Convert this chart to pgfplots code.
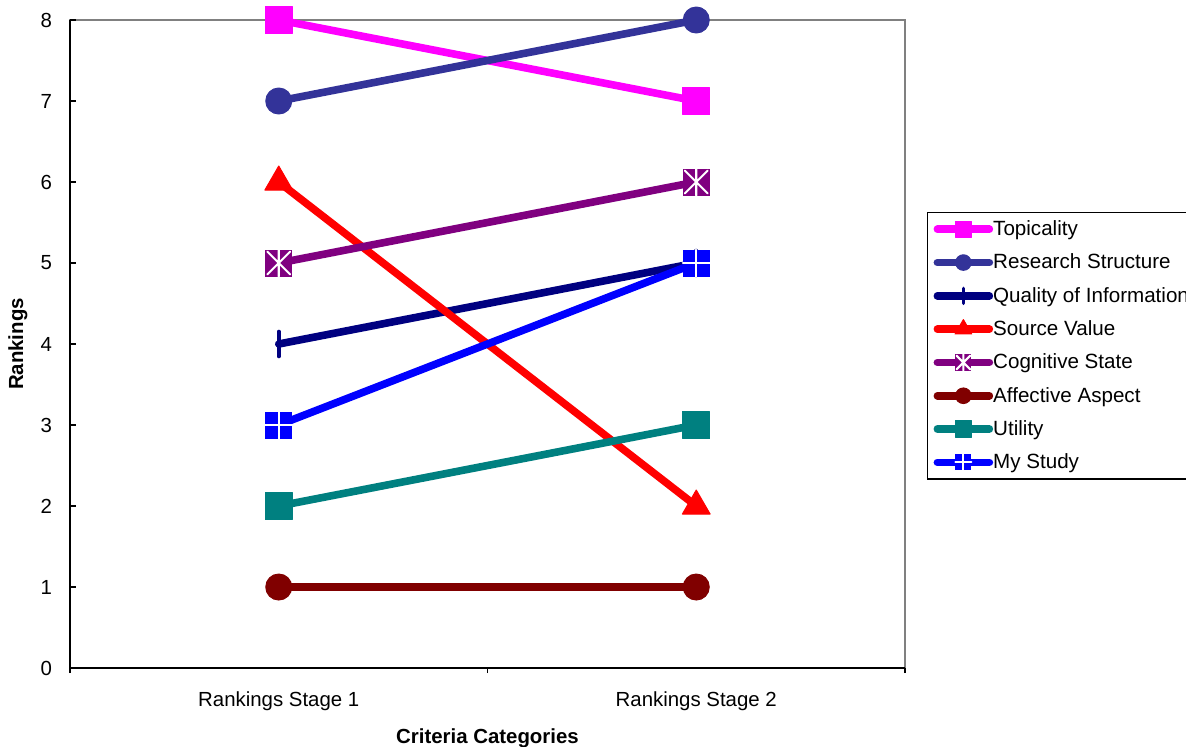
\documentclass[border=0pt]{standalone}
\usepackage{pgfplots}
\pgfplotsset{compat=1.18}
\usepackage{fontspec}
\setmainfont{Liberation Sans}

\definecolor{cTopic}{HTML}{FF00FF}
\definecolor{cResearch}{HTML}{333399}
\definecolor{cQuality}{HTML}{000080}
\definecolor{cSource}{HTML}{FF0000}
\definecolor{cCognitive}{HTML}{800080}
\definecolor{cAffective}{HTML}{800000}
\definecolor{cUtility}{HTML}{008080}
\definecolor{cStudy}{HTML}{0000FF}

% filled square with a white asterisk (two diagonals and a vertical bar)
\pgfdeclareplotmark{sqast}{%
  \pgfpathrectangle{\pgfqpoint{-\pgfplotmarksize}{-\pgfplotmarksize}}{\pgfqpoint{2\pgfplotmarksize}{2\pgfplotmarksize}}%
  \pgfusepathqfill
  \pgfscope
  \pgfsetstrokecolor{white}%
  \pgfsetlinewidth{0.15\pgfplotmarksize}%
  \pgfpathmoveto{\pgfqpoint{-0.85\pgfplotmarksize}{-0.85\pgfplotmarksize}}%
  \pgfpathlineto{\pgfqpoint{0.85\pgfplotmarksize}{0.85\pgfplotmarksize}}%
  \pgfpathmoveto{\pgfqpoint{-0.85\pgfplotmarksize}{0.85\pgfplotmarksize}}%
  \pgfpathlineto{\pgfqpoint{0.85\pgfplotmarksize}{-0.85\pgfplotmarksize}}%
  \pgfpathmoveto{\pgfqpoint{0pt}{-\pgfplotmarksize}}%
  \pgfpathlineto{\pgfqpoint{0pt}{\pgfplotmarksize}}%
  \pgfusepathqstroke
  \endpgfscope
}
% filled square with a white plus
\pgfdeclareplotmark{sqplus}{%
  \pgfpathrectangle{\pgfqpoint{-\pgfplotmarksize}{-\pgfplotmarksize}}{\pgfqpoint{2\pgfplotmarksize}{2\pgfplotmarksize}}%
  \pgfusepathqfill
  \pgfscope
  \pgfsetstrokecolor{white}%
  \pgfsetlinewidth{0.15\pgfplotmarksize}%
  \pgfpathmoveto{\pgfqpoint{-\pgfplotmarksize}{0pt}}%
  \pgfpathlineto{\pgfqpoint{\pgfplotmarksize}{0pt}}%
  \pgfpathmoveto{\pgfqpoint{0pt}{-\pgfplotmarksize}}%
  \pgfpathlineto{\pgfqpoint{0pt}{\pgfplotmarksize}}%
  \pgfusepathqstroke
  \endpgfscope
}

\begin{document}
\begin{tikzpicture}
\path[use as bounding box] (-35pt,-39pt) rectangle (558pt,334pt);
\begin{axis}[
  at={(0pt,0pt)}, anchor=south west,
  scale only axis, width=417.5pt, height=324pt,
  xmin=-0.5, xmax=1.5, ymin=0, ymax=8,
  clip=false,
  axis lines=left,
  axis line style={-, black, line width=0.6pt},
  axis background/.style={draw=black!50, line width=0.8pt},
  tick align=inside,
  tick style={black, line width=0.6pt},
  major tick length=3pt,
  minor tick length=2.6pt,
  xtick={0,1},
  xticklabels={Rankings Stage 1, Rankings Stage 2},
  major x tick style={draw=none},
  minor xtick={-0.5,0.5,1.5},
  minor x tick style={yshift=-2.6pt},
  ytick={0,1,...,8},
  /pgf/number format/assume math mode=true,
  ticklabel style={font=\fontsize{10.2}{12}\selectfont},
  xticklabel style={yshift=-8.5pt},
  yticklabel style={xshift=-5.5pt},
  xlabel={Criteria Categories},
  ylabel={Rankings},
  xlabel style={at={(axis description cs:0.5,-0.108)}, anchor=center, font=\bfseries\fontsize{10.2}{12}\selectfont},
  ylabel style={at={(axis description cs:-0.0623,0.5)}, anchor=center, font=\bfseries\fontsize{10.2}{12}\selectfont},
  every axis plot/.append style={line width=3.8pt, line cap=round, line join=round},
  legend cell align=left,
  legend image code/.code={%
    \draw[mark repeat=2, mark phase=2, line cap=round,
          /tikz/every mark/.append style={scale=0.6}]
      plot coordinates {(0pt,0pt) (13pt,0pt) (26pt,0pt)};},
  legend style={
    at={(1.0263,0.7037)}, anchor=north west,
    draw=black, line width=0.6pt,
    font=\fontsize{10.3}{12}\selectfont,
    inner xsep=3pt, inner ysep=0pt, row sep=0pt,
    nodes={inner xsep=0pt, inner ysep=0pt, text height=11.5pt, text depth=5.15pt},
  },
]
\addplot[color=cTopic, mark=square*, mark size=6.75pt, mark options={solid, line width=0.5pt}]
  coordinates {(0,8) (1,7)};
\addlegendentry{Topicality}
\addplot[color=cResearch, mark=*, mark size=6.5pt, mark options={solid, line width=0.5pt}]
  coordinates {(0,7) (1,8)};
\addlegendentry{Research Structure}
\addplot[color=cQuality, mark=|, mark size=6.25pt, mark options={solid, line width=1.8pt}]
  coordinates {(0,4) (1,5)};
\addlegendentry{Quality of Information}
\addplot[color=cSource, mark=triangle*, mark size=8pt, mark options={solid, line width=0.5pt}]
  coordinates {(0,6) (1,2)};
\addlegendentry{Source Value}
\addplot[color=cCognitive, mark=sqast, mark size=6.75pt, mark options={solid}]
  coordinates {(0,5) (1,6)};
\addlegendentry{Cognitive State}
\addplot[color=cAffective, mark=*, mark size=6.5pt, mark options={solid, line width=0.5pt}]
  coordinates {(0,1) (1,1)};
\addlegendentry{Affective Aspect}
\addplot[color=cUtility, mark=square*, mark size=6.75pt, mark options={solid, line width=0.5pt}]
  coordinates {(0,2) (1,3)};
\addlegendentry{Utility}
\addplot[color=cStudy, mark=sqplus, mark size=6.75pt, mark options={solid}]
  coordinates {(0,3) (1,5)};
\addlegendentry{My Study}
\end{axis}
\end{tikzpicture}
\end{document}
